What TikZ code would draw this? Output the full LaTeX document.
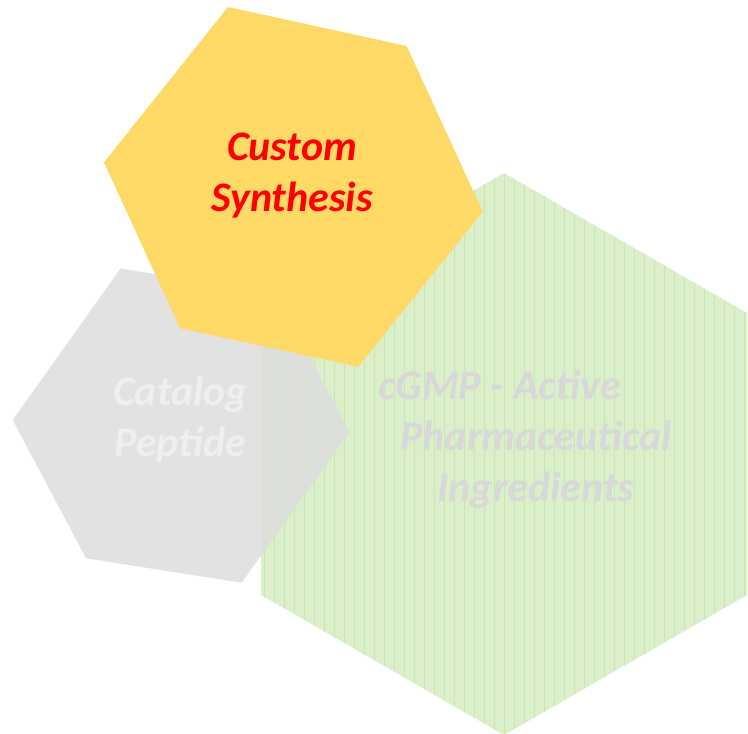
\documentclass[tikz,border=0pt]{standalone}
\usepackage{fontspec}
\setmainfont{Carlito}
\usetikzlibrary{positioning}
\definecolor{myyellow}{RGB}{255,217,102}
\definecolor{mygreen}{RGB}{218,239,202}
\definecolor{mystripe}{RGB}{200,230,178}
\definecolor{mygray}{RGB}{221,221,221}
\definecolor{mylight}{RGB}{239,239,239}
\definecolor{mytext}{RGB}{216,216,216}

\begin{document}
\begin{tikzpicture}[x=1pt,y=-1pt,
  hexgreen/.style={fill=mygreen},
  hexgray/.style={fill=mygray,fill opacity=0.85},
  hexyellow/.style={fill=myyellow},
  greenstripe/.style={draw=mystripe,line width=1pt},
  lbl/.style={font=\fontsize{42}{51}\selectfont\bfseries\itshape,align=center,inner sep=0pt}]

  \clip (0,0) rectangle (748,734);

  % green hexagon, vertical stripes
  \fill[hexgreen] (504,173) -- (747,313) -- (747,595) -- (504,735) -- (261,595) -- (261,313) -- cycle;
  \begin{scope}
    \clip (504,173) -- (747,313) -- (747,595) -- (504,735) -- (261,595) -- (261,313) -- cycle;
    \foreach \x in {264,274,...,744}
      \draw[greenstripe] (\x,170) -- (\x,740);
  \end{scope}

  % gray and yellow hexagons
  \fill[hexgray] (120.5,268.5) -- (276,293) -- (349.3,431.7) -- (241.7,582.7) -- (86,558.3) -- (12.7,420) -- cycle;
  \fill[hexyellow] (228,7) -- (406.7,46) -- (482.7,211.7) -- (358.3,366.7) -- (180,328.3) -- (104,162.3) -- cycle;

  \node[lbl,text=red] (custom) at (292,176) {Custom\\Synthesis};
  \node[lbl,text=mylight] (catalog) at (180.5,420) {Catalog\\Peptide};
  \node[lbl,text=mytext] (cgmp) at (536,439) {cGMP - Active\hspace*{73pt}\\Pharmaceutical\\Ingredients};

\end{tikzpicture}
\end{document}
